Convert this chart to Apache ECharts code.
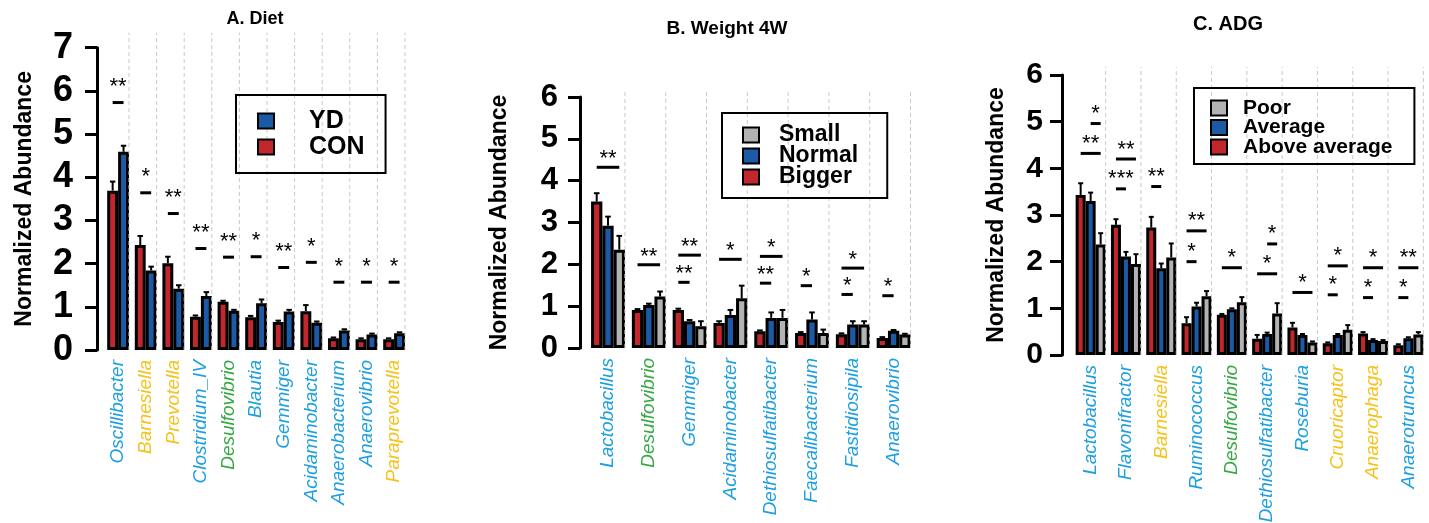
<!DOCTYPE html>
<html><head><meta charset="utf-8">
<script src="https://cdn.jsdelivr.net/npm/echarts@6.0.0/dist/echarts.min.js"></script>
<style>html,body{margin:0;padding:0;background:#fff}#c{width:1429px;height:523px}</style>
</head><body><div id="c"></div>
<script>
// ---------- DATA ----------
// Panel A: Diet
const catsA = ['Oscillibacter','Barnesiella','Prevotella','Clostridium_IV','Desulfovibrio','Blautia','Gemmiger','Acidaminobacter','Anaerobacterium','Anaerovibrio','Paraprevotella'];
const phylaA = ['F','B','B','F','P','F','F','F','F','F','B'];
const conA    = [3.69, 2.43, 2.01, 0.77, 1.12, 0.76, 0.65, 0.90, 0.27, 0.25, 0.25];
const conErrA = [0.21, 0.21, 0.15, 0.03, 0.02, 0.03, 0.03, 0.14, 0.02, 0.02, 0.02];
const ydA     = [4.59, 1.84, 1.42, 1.25, 0.91, 1.08, 0.89, 0.63, 0.45, 0.36, 0.39];
const ydErrA  = [0.14, 0.09, 0.08, 0.09, 0.02, 0.09, 0.04, 0.03, 0.03, 0.02, 0.02];
// significance: [category, line value, label, from group, to group]
const sigA = [[0,5.73,'**',0,1],[1,3.64,'*',0,1],[2,3.16,'**',0,1],[3,2.35,'**',0,1],[4,2.15,'**',0,1],[5,2.16,'*',0,1],[6,1.91,'**',0,1],[7,2.03,'*',0,1],[8,1.57,'*',0,1],[9,1.57,'*',0,1],[10,1.57,'*',0,1]];

// Panel B: Weight 4W
const catsB = ['Lactobacillus','Desulfovibrio','Gemmiger','Acidaminobacter','Dethiosulfatibacter','Faecalibacterium','Fastidiosipila','Anaerovibrio'];
const phylaB = ['F','P','F','F','F','F','F','F'];
const biggerB    = [3.50, 0.91, 0.91, 0.60, 0.40, 0.36, 0.33, 0.24];
const biggerErrB = [0.20, 0.02, 0.03, 0.04, 0.02, 0.02, 0.02, 0.02];
const normalB    = [2.92, 1.03, 0.64, 0.79, 0.72, 0.68, 0.56, 0.41];
const normalErrB = [0.22, 0.03, 0.03, 0.12, 0.13, 0.17, 0.08, 0.02];
const smallB     = [2.35, 1.23, 0.52, 1.19, 0.72, 0.36, 0.56, 0.32];
const smallErrB  = [0.33, 0.12, 0.12, 0.30, 0.19, 0.08, 0.08, 0.02];
const sigB = [[0,4.32,'**',0,2],[1,1.99,'**',0,2],[2,1.57,'**',0,1],[2,2.22,'**',0,2],[3,2.12,'*',0,2],[4,1.55,'**',0,1],[4,2.19,'*',0,2],[5,1.49,'*',0,1],[6,1.28,'*',0,1],[6,1.91,'*',0,2],[7,1.25,'*',0,1]];

// Panel C: ADG
const catsC = ['Lactobacillus','Flavonifractor','Barnesiella','Ruminococcus','Desulfovibrio','Dethiosulfatibacter','Roseburia','Cruoricaptor','Anaerophaga','Anaerotruncus'];
const phylaC = ['F','F','B','F','P','F','F','B','B','F'];
const aboveC     = [3.43, 2.79, 2.73, 0.68, 0.86, 0.35, 0.59, 0.25, 0.46, 0.21];
const aboveErrC  = [0.25, 0.12, 0.23, 0.13, 0.02, 0.08, 0.10, 0.02, 0.03, 0.02];
const averageC   = [3.30, 2.11, 1.86, 1.04, 0.98, 0.45, 0.43, 0.43, 0.32, 0.36];
const averageErrC= [0.18, 0.10, 0.10, 0.08, 0.02, 0.03, 0.02, 0.02, 0.02, 0.02];
const poorC      = [2.37, 1.95, 2.09, 1.26, 1.13, 0.89, 0.27, 0.54, 0.30, 0.44];
const poorErrC   = [0.24, 0.21, 0.30, 0.11, 0.11, 0.22, 0.02, 0.10, 0.02, 0.05];
const sigC = [[0,4.32,'**',0,2],[0,4.96,'*',1,2],[1,3.56,'***',0,1],[1,4.20,'**',0,2],[2,3.61,'**',0,1],[3,2.00,'*',0,1],[3,2.66,'**',0,2],[4,1.87,'*',0,2],[5,1.74,'*',0,2],[5,2.38,'*',1,2],[6,1.34,'*',0,2],[7,1.29,'*',0,1],[7,1.91,'*',0,2],[8,1.23,'*',0,1],[8,1.87,'*',0,2],[9,1.23,'*',0,1],[9,1.87,'**',0,2]];

const yTitle = 'Normalized Abundance';

// ---------- STYLE ----------
const FONT = "'Liberation Sans', Arial, Helvetica, sans-serif";
const BAR = {red:'#C1272D', blue:'#1D5AA5', gray:'#B3B3B3'};
const PHY = {F:'#1E9FDF', B:'#F5C21B', P:'#38A845'};

const panels = [
  {title:'A. Diet', tx:255, ty:21, tsize:18,
   grid:{left:104.3, top:47.7, width:303.6, height:302.3}, yMax:7, gap:0.21, offset:7.3,
   tickFont:36, tickMargin:24, nameGap:61, dashExtra:15, sigOff:20.6,
   cats:catsA, phyla:phylaA,
   series:[{name:'CON', color:BAR.red, data:conA, err:conErrA},{name:'YD', color:BAR.blue, data:ydA, err:ydErrA}],
   legendOrder:['YD','CON'], lg:{left:236, top:95, font:25, lh:26, gap:0, pad:[13,21,13,21], tpad:30}, sig:sigA},
  {title:'B. Weight 4W', tx:727, ty:31, tsize:19,
   grid:{left:587.6, top:97, width:326.4, height:251}, yMax:6, gap:0.17, offset:7.6,
   tickFont:31, tickMargin:22, nameGap:69, dashExtra:7, sigOff:13.3,
   cats:catsB, phyla:phylaB,
   series:[{name:'Bigger', color:BAR.red, data:biggerB, err:biggerErrB},{name:'Normal', color:BAR.blue, data:normalB, err:normalErrB},{name:'Small', color:BAR.gray, data:smallB, err:smallErrB}],
   legendOrder:['Small','Normal','Bigger'], lg:{left:722, top:113, font:23, lh:23, gap:-2, pad:[10.5,29,9.5,20], tpad:15}, sig:sigB},
  {title:'C. ADG', tx:1228, ty:26, tsize:20,
   grid:{left:1073, top:75, width:353, height:280}, yMax:6, gap:0.15, offset:11,
   tickFont:30, tickMargin:19, nameGap:54, dashExtra:8, sigOff:14.5,
   cats:catsC, phyla:phylaC,
   series:[{name:'Above average', color:BAR.red, data:aboveC, err:aboveErrC},{name:'Average', color:BAR.blue, data:averageC, err:averageErrC},{name:'Poor', color:BAR.gray, data:poorC, err:poorErrC}],
   legendOrder:['Poor','Average','Above average'], lg:{left:1194, top:88, font:21, lh:21, gap:-1.5, pad:[9.5,22,6.5,16], tpad:11}, sig:sigC}
];

const ctx = document.createElement('canvas').getContext('2d');
function textW(t, size){ ctx.font = 'bold ' + size + 'px ' + FONT; return ctx.measureText(t).width; }

const option = {
  animation:false, backgroundColor:'#fff',
  title:[], grid:[], xAxis:[], yAxis:[], legend:[], series:[]
};

panels.forEach((p, pi) => {
  option.title.push({text:p.title, left:p.tx - textW(p.title, p.tsize)/2, top:p.ty - p.tsize*0.6, padding:0,
    textStyle:{fontSize:p.tsize, fontWeight:'bold', fontFamily:FONT, color:'#000'}});
  option.grid.push(Object.assign({containLabel:false, outerBoundsMode:'none'}, p.grid));
  option.xAxis.push({type:'category', gridIndex:pi, data:p.cats,
    axisLine:{show:false}, axisTick:{show:false}, splitLine:{show:false},
    axisLabel:{interval:0, rotate:90, margin:10, fontSize:19, fontStyle:'italic', fontFamily:FONT,
      color:(v, i) => PHY[p.phyla[i]]}});
  option.yAxis.push({type:'value', gridIndex:pi, min:0, max:p.yMax, interval:1, offset:p.offset,
    name:yTitle, nameLocation:'middle', nameGap:p.nameGap, nameRotate:90,
    nameTextStyle:{fontSize:23, fontWeight:'bold', fontFamily:FONT, color:'#000'},
    axisLine:{show:true, lineStyle:{color:'#000', width:3}},
    axisTick:{show:true, inside:false, length:12, lineStyle:{color:'#000', width:3}},
    axisLabel:{fontSize:p.tickFont, fontWeight:'bold', fontFamily:FONT, color:'#000', margin:p.tickMargin},
    splitLine:{show:false}});
  option.legend.push({data:p.legendOrder, left:p.lg.left, top:p.lg.top, orient:'vertical', icon:'rect',
    itemWidth:16, itemHeight:15, itemGap:p.lg.gap, selectedMode:false,
    borderColor:'#000', borderWidth:2, padding:p.lg.pad,
    itemStyle:{borderColor:'#000', borderWidth:2},
    textStyle:{fontSize:p.lg.font, fontWeight:'bold', fontFamily:FONT, color:'#000',
      lineHeight:p.lg.lh, padding:[0,0,0,p.lg.tpad]}});

  const n = p.series.length;
  // bars
  p.series.forEach((s, k) => {
    option.series.push({type:'bar', name:s.name, xAxisIndex:pi, yAxisIndex:pi, data:s.data,
      barGap:'0%', barCategoryGap:(p.gap*100)+'%', z:2,
      itemStyle:{color:s.color, borderColor:'#000', borderWidth:3}});
  });
  // error bars
  p.series.forEach((s, k) => {
    option.series.push({type:'custom', name:s.name + ' error', xAxisIndex:pi, yAxisIndex:pi, z:4, silent:true,
      data:s.data.map((v, i) => [i, v, s.err[i]]),
      renderItem:(params, api) => {
        const i = api.value(0), v = api.value(1), e = api.value(2);
        const c = api.coord([i, v]), t = api.coord([i, v + e]);
        const band = api.size([1, 0])[0], gw = band * (1 - p.gap), bw = gw / n;
        const x = c[0] - gw/2 + bw*(k + 0.5), cap = bw*0.5;
        return {type:'group', children:[
          {type:'line', shape:{x1:x, y1:c[1], x2:x, y2:t[1]}, style:{stroke:'#000', lineWidth:2}},
          {type:'line', shape:{x1:x-cap/2, y1:t[1], x2:x+cap/2, y2:t[1]}, style:{stroke:'#000', lineWidth:2}}
        ]};
      }});
  });
  // dashed separators
  option.series.push({type:'custom', name:'sep'+pi, xAxisIndex:pi, yAxisIndex:pi, z:3, silent:true,
    data:p.cats.map((c, i) => [i, 0]),
    renderItem:(params, api) => {
      const i = api.value(0);
      const b = api.coord([i, 0]), top = api.coord([i, p.yMax]);
      const band = api.size([1, 0])[0], gw = band * (1 - p.gap);
      const x = b[0] + gw/2;
      return {type:'line', shape:{x1:x, y1:b[1], x2:x, y2:top[1] - p.dashExtra},
        style:{stroke:'#c9c9c9', lineWidth:1, lineDash:[4, 3]}};
    }});
  // significance marks
  option.series.push({type:'custom', name:'sig'+pi, xAxisIndex:pi, yAxisIndex:pi, z:5, silent:true,
    data:p.sig.map(s => [s[0], s[1]]),
    renderItem:(params, api) => {
      const s = p.sig[params.dataIndex];
      const c = api.coord([s[0], s[1]]);
      const band = api.size([1, 0])[0], gw = band * (1 - p.gap), bw = gw / n;
      const x1 = c[0] - gw/2 + bw*(s[3] + 0.5), x2 = c[0] - gw/2 + bw*(s[4] + 0.5);
      return {type:'group', children:[
        {type:'line', shape:{x1:x1, y1:c[1], x2:x2, y2:c[1]}, style:{stroke:'#000', lineWidth:3}},
        {type:'text', x:(x1 + x2)/2, y:c[1] - p.sigOff + 5,
          style:{text:s[2], fill:'#000', fontSize:22, fontFamily:FONT, align:'center', verticalAlign:'middle'}}
      ]};
    }});
});

const chart = echarts.init(document.getElementById('c'), null, {renderer:'canvas'});
chart.setOption(option);
</script>
</body></html>
